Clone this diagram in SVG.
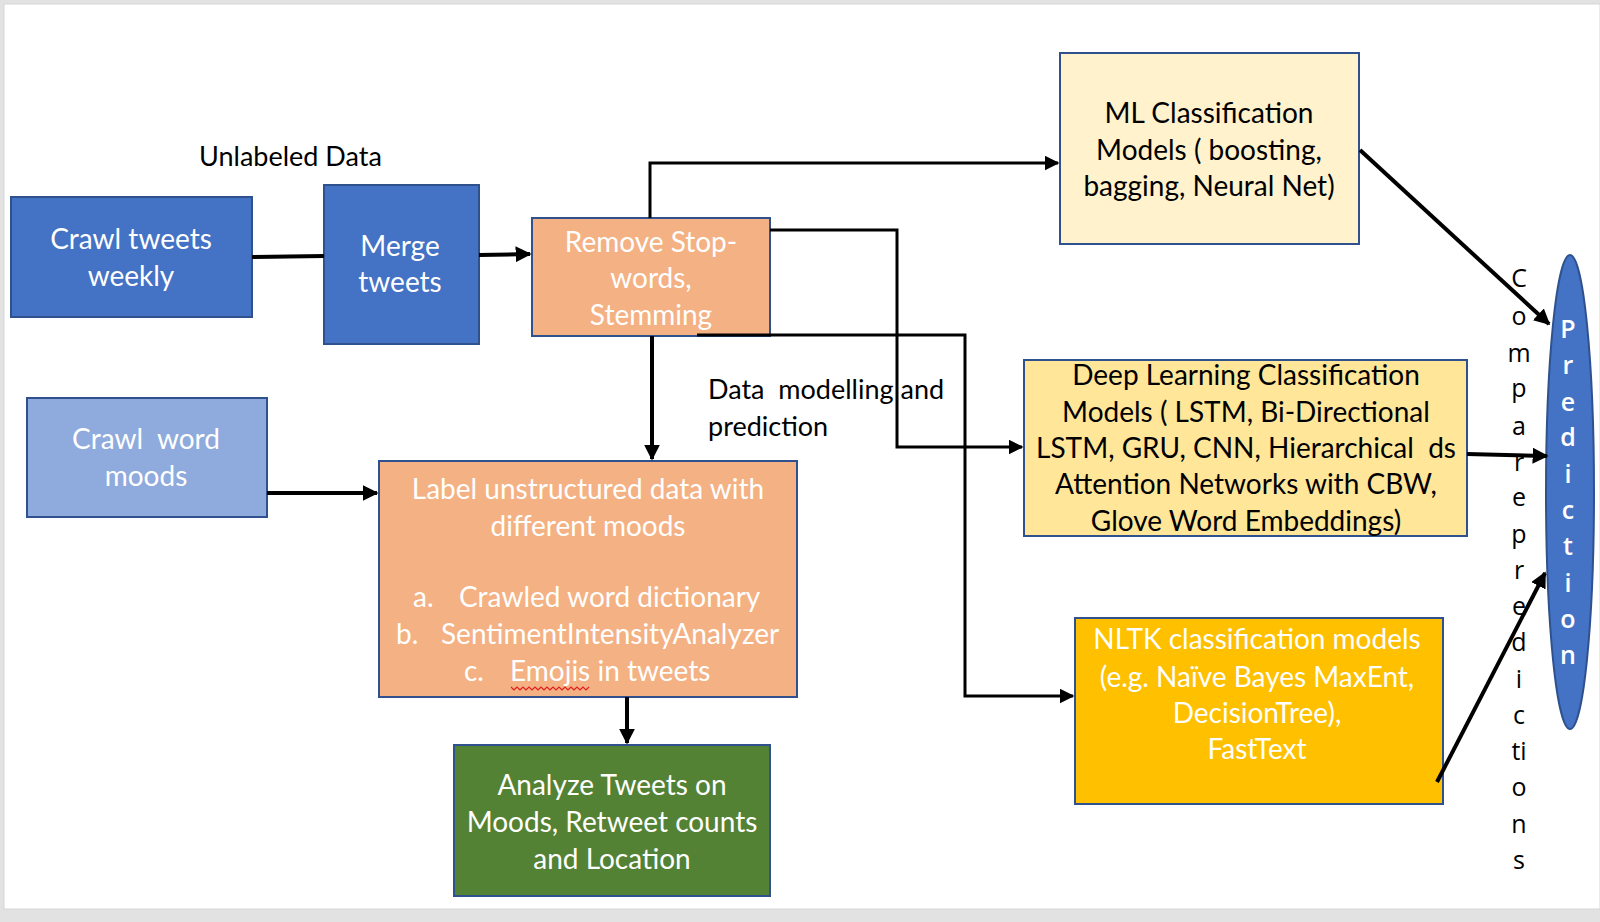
<svg xmlns="http://www.w3.org/2000/svg" width="1600" height="922" viewBox="0 0 1600 922">
<defs>
<style>
.box{stroke:#2F528F;stroke-width:2}
.w{fill:#ffffff;font-family:Lato,"Liberation Sans",sans-serif;font-size:28px;text-anchor:middle}
.k{fill:#000000;font-family:Lato,"Liberation Sans",sans-serif;font-size:28px;text-anchor:middle}
.kl{fill:#000000;font-family:Lato,"Liberation Sans",sans-serif;font-size:27px}
.wl{fill:#ffffff;font-family:Lato,"Liberation Sans",sans-serif;font-size:28px}
.v{font-family:"Open Sans","Liberation Sans",sans-serif;font-size:25px;text-anchor:middle}
.vb{font-weight:600}
.c{fill:none;stroke:#000000;stroke-width:4}
.c3{fill:none;stroke:#000000;stroke-width:3}
</style>
<marker id="ah" viewBox="0 0 10 10" refX="9" refY="5" markerWidth="4" markerHeight="4" orient="auto" markerUnits="strokeWidth">
<path d="M0,0 L10,5 L0,10 z" fill="#000000"/>
</marker>
<marker id="ah3" viewBox="0 0 10 10" refX="9" refY="5" markerWidth="5" markerHeight="5" orient="auto" markerUnits="strokeWidth">
<path d="M0,0 L10,5 L0,10 z" fill="#000000"/>
</marker>
</defs>
<rect x="0" y="0" width="1600" height="922" fill="#e2e2e2"/>
<rect x="4" y="4" width="1596" height="905" fill="#ffffff" stroke="#d6d6d6" stroke-width="1"/>

<g id="crawl-tweets">
<rect class="box" x="11" y="197" width="241" height="120" fill="#4472C4"/>
<text class="w" x="131" y="249">Crawl tweets</text>
<text class="w" x="131" y="286">weekly</text>
</g>
<g id="merge-tweets">
<rect class="box" x="324" y="185" width="155" height="159" fill="#4472C4"/>
<text class="w" x="400" y="256">Merge</text>
<text class="w" x="400" y="292">tweets</text>
</g>
<g id="remove-stopwords">
<rect class="box" x="532" y="218" width="238" height="118" fill="#F4B183"/>
<text class="w" x="651" y="252">Remove Stop-</text>
<text class="w" x="651" y="288">words,</text>
<text class="w" x="651" y="325">Stemming</text>
</g>
<g id="crawl-word-moods">
<rect class="box" x="27" y="398" width="240" height="119" fill="#8FAADC"/>
<text class="w" x="146" y="449" xml:space="preserve">Crawl  word</text>
<text class="w" x="146" y="486">moods</text>
</g>
<g id="label-data">
<rect class="box" x="379" y="461" width="418" height="236" fill="#F4B183"/>
<text class="w" x="588" y="499">Label unstructured data with</text>
<text class="w" x="588" y="536">different moods</text>
<text class="wl" x="413" y="607">a.</text>
<text class="wl" x="459" y="607">Crawled word dictionary</text>
<text class="wl" x="396" y="644">b.</text>
<text class="wl" x="441" y="644">SentimentIntensityAnalyzer</text>
<text class="wl" x="464" y="681">c.</text>
<text class="wl" x="510" y="681">Emojis in tweets</text>
<path d="M511,687 l3,3 l3,-3 l3,3 l3,-3 l3,3 l3,-3 l3,3 l3,-3 l3,3 l3,-3 l3,3 l3,-3 l3,3 l3,-3 l3,3 l3,-3 l3,3 l3,-3 l3,3 l3,-3 l3,3 l3,-3 l3,3 l3,-3 l3,3 l3,-3" fill="none" stroke="#e02020" stroke-width="1.2"/>
</g>
<g id="analyze-tweets">
<rect class="box" x="454" y="745" width="316" height="151" fill="#548235"/>
<text class="w" x="612" y="795">Analyze Tweets on</text>
<text class="w" x="612" y="832">Moods, Retweet counts</text>
<text class="w" x="612" y="869">and Location</text>
</g>
<g id="ml-models">
<rect class="box" x="1060" y="53" width="299" height="191" fill="#FFF2CC"/>
<text class="k" x="1209" y="123">ML Classification</text>
<text class="k" x="1209" y="160">Models ( boosting,</text>
<text class="k" x="1209" y="196">bagging, Neural Net)</text>
</g>
<g id="dl-models">
<rect class="box" x="1024" y="360" width="443" height="176" fill="#FFE699"/>
<text class="k" x="1246" y="385">Deep Learning Classification</text>
<text class="k" x="1246" y="422">Models ( LSTM, Bi-Directional</text>
<text class="k" x="1246" y="458" xml:space="preserve">LSTM, GRU, CNN, Hierarchical  ds</text>
<text class="k" x="1246" y="494">Attention Networks with CBW,</text>
<text class="k" x="1246" y="531">Glove Word Embeddings)</text>
</g>
<g id="nltk-models">
<rect class="box" x="1075" y="618" width="368" height="186" fill="#FFC000"/>
<text class="w" x="1257" y="649">NLTK classification models</text>
<text class="w" x="1257" y="687">(e.g. Naïve Bayes MaxEnt,</text>
<text class="w" x="1257" y="723">DecisionTree),</text>
<text class="w" x="1257" y="759">FastText</text>
</g>
<g id="prediction">
<ellipse cx="1570" cy="492" rx="24" ry="237" fill="#4472C4" stroke="#2F528F" stroke-width="2"/>
<g class="v vb" fill="#ffffff">
<text x="1568" y="338">P</text>
<text x="1568" y="374">r</text>
<text x="1568" y="411">e</text>
<text x="1568" y="446">d</text>
<text x="1568" y="483">i</text>
<text x="1568" y="519">c</text>
<text x="1568" y="555">t</text>
<text x="1568" y="592">i</text>
<text x="1568" y="628">o</text>
<text x="1568" y="664">n</text>
</g>
</g>
<g id="labels">
<text class="kl" x="199" y="166">Unlabeled Data</text>
<text class="kl" x="708" y="399" xml:space="preserve">Data  modelling and</text>
<text class="kl" x="708" y="436">prediction</text>
<g class="v" fill="#000000">
<text x="1519" y="287">C</text>
<text x="1519" y="325">o</text>
<text x="1519" y="362">m</text>
<text x="1519" y="397">p</text>
<text x="1519" y="435">a</text>
<text x="1519" y="471">r</text>
<text x="1519" y="506">e</text>
<text x="1519" y="543">p</text>
<text x="1519" y="579">r</text>
<text x="1519" y="615">e</text>
<text x="1519" y="651">d</text>
<text x="1519" y="688">i</text>
<text x="1519" y="724">c</text>
<text x="1519" y="760">ti</text>
<text x="1519" y="796">o</text>
<text x="1519" y="833">n</text>
<text x="1519" y="869">s</text>
</g>
</g>
<g id="connectors">
<path class="c" d="M252,257 L324,256"/>
<path class="c" d="M479,255 L530,254" marker-end="url(#ah)"/>
<path class="c3" d="M650,218 L650,163 L1058,163" marker-end="url(#ah3)"/>
<path class="c3" d="M770,230 L897,230 L897,447 L1022,447" marker-end="url(#ah3)"/>
<path class="c3" d="M697,335 L965,335 L965,696 L1073,696" marker-end="url(#ah3)"/>
<path class="c" d="M652,336 L652,459" marker-end="url(#ah)"/>
<path class="c" d="M267,493 L377,493" marker-end="url(#ah)"/>
<path class="c" d="M627,697 L627,743" marker-end="url(#ah)"/>
<path class="c" d="M1360,150 L1549,324" marker-end="url(#ah)"/>
<path class="c" d="M1467,454 L1547,456" marker-end="url(#ah)"/>
<path class="c" d="M1437,782 L1545,573" marker-end="url(#ah)"/>
</g>
</svg>
